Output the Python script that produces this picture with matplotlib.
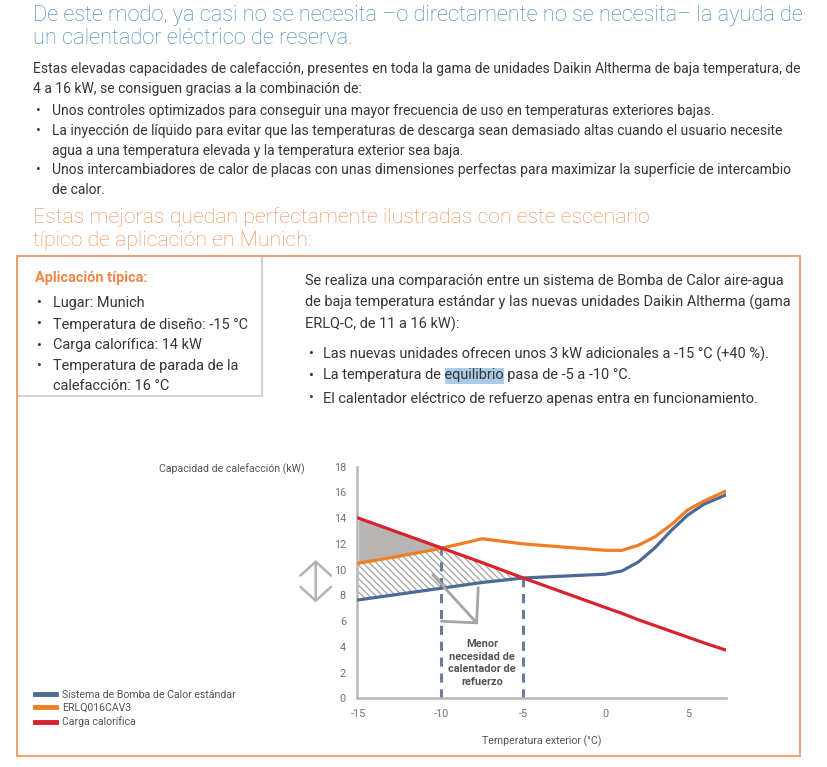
import numpy as np
import matplotlib
matplotlib.use('Agg')
import matplotlib.pyplot as plt
from matplotlib.font_manager import FontProperties, findfont
from matplotlib.patches import Rectangle
from matplotlib.transforms import Affine2D

# ---- chart data ----
temps = [-15, -12.5, -10, -7.5, -5, -2.5, 0, 1, 2, 3, 4, 5, 6, 7.3]
standard = [7.65, 8.1, 8.55, 9.0, 9.35, 9.5, 9.65, 9.9, 10.6, 11.7, 13.05, 14.25, 15.1, 15.8]
erlq = [10.5, 11.05, 11.65, 12.4, 12.0, 11.75, 11.5, 11.5, 11.9, 12.55, 13.5, 14.65, 15.35, 16.1]
load = [14.0, 12.85, 11.7, 10.55, 9.35, 8.2, 7.05, 6.6, 6.1, 5.65, 5.2, 4.75, 4.3, 3.75]
labels = ['Sistema de Bomba de Calor estándar', 'ERLQ016CAV3', 'Carga calorífica']
xticks = [-15, -10, -5, 0, 5]
yticks = [0, 2, 4, 6, 8, 10, 12, 14, 16, 18]
balance_old = -5
balance_new = -10

# ---- page text ----
title = ['De este modo, ya casi no se necesita –o directamente no se necesita– la ayuda de',
         'un calentador eléctrico de reserva.']
para = ['Estas elevadas capacidades de calefacción, presentes en toda la gama de unidades Daikin Altherma de baja temperatura, de',
        '4 a 16 kW, se consiguen gracias a la combinación de:']
bullets = [['Unos controles optimizados para conseguir una mayor frecuencia de uso en temperaturas exteriores bajas.'],
           ['La inyección de líquido para evitar que las temperaturas de descarga sean demasiado altas cuando el usuario necesite',
            'agua a una temperatura elevada y la temperatura exterior sea baja.'],
           ['Unos intercambiadores de calor de placas con unas dimensiones perfectas para maximizar la superficie de intercambio',
            'de calor.']]
heading = ['Estas mejoras quedan perfectamente ilustradas con este escenario',
           'típico de aplicación en Munich:']
box_title = 'Aplicación típica:'
box_items = ['Lugar: Munich', 'Temperatura de diseño: -15 °C', 'Carga calorífica: 14 kW',
             'Temperatura de parada de la', 'calefacción: 16 °C']
box_bullet = [True, True, True, True, False]
right_para = ['Se realiza una comparación entre un sistema de Bomba de Calor aire-agua',
              'de baja temperatura estándar y las nuevas unidades Daikin Altherma (gama',
              'ERLQ-C, de 11 a 16 kW):']
right_items = ['Las nuevas unidades ofrecen unos 3 kW adicionales a -15 °C (+40 %).',
               'La temperatura de equilibrio pasa de -5 a -10 °C.',
               'El calentador eléctrico de refuerzo apenas entra en funcionamiento.']


def pick(names):
    for n in names:
        try:
            findfont(FontProperties(family=n), fallback_to_default=False)
            return n
        except Exception:
            pass
    return 'DejaVu Sans'


font = pick(['Liberation Sans Narrow', 'Roboto', 'Open Sans'])

W, H = 827, 767
fig = plt.figure(figsize=(W / 100, H / 100), dpi=100)
rend = fig.canvas.get_renderer()
pix = Affine2D().scale(1 / W, -1 / H).translate(0, 1) + fig.transFigure


def width_of(s, size, weight='normal'):
    fp = FontProperties(family=font, size=size, weight=weight)
    return rend.get_text_width_height_descent(s, fp, ismath=False)[0]


def fit(s, target, weight='normal'):
    return 10 * target / width_of(s, 10, weight)


def put(x, y, s, size, color, weight='normal', ha='left'):
    fig.text(x, y, s, transform=pix, fontsize=size, color=color, family=font,
             weight=weight, ha=ha, va='baseline')


blue_t = '#3d82b2'
orange_t = '#f0874a'
body = '#363636'

# title
ts = fit(title[0], 772, 'light')
put(33, 21, title[0], ts, blue_t, 'light')
put(33, 44.5, title[1], ts, blue_t, 'light')

# paragraph + bullets
bs = fit(para[0], 770)
put(33, 73.5, para[0], bs, body)
put(33, 92.5, para[1], bs, body)
ys = [115, 135, 154.5, 174, 193.5]
k = 0
for item in bullets:
    for j, line in enumerate(item):
        if j == 0:
            put(36, ys[k], '•', bs, body)
        put(52, ys[k], line, bs, body)
        k += 1

# orange heading
hs = fit(heading[0], 618, 'light')
put(33, 223, heading[0], hs, orange_t, 'light')
put(33, 246, heading[1], hs, orange_t, 'light')

# boxes
fig.add_artist(Rectangle((17, 256), 245, 140, transform=pix, fill=False,
                         edgecolor='#c9c9c9', lw=1.2))
fig.add_artist(Rectangle((17, 256), 783, 500, transform=pix, fill=False,
                         edgecolor='#f19a68', lw=1.3))

rs = fit(right_para[0], 478)
put(35, 282, box_title, rs, orange_t, 'bold')
for y, s, b in zip([307, 328.5, 349.5, 370, 390], box_items, box_bullet):
    if b:
        put(37, y, '•', rs, body)
    put(53, y, s, rs, body)

for y, s in zip([284.5, 306.5, 328.5], right_para):
    put(305, y, s, rs, body)
for y, s in zip([358.5, 379.5, 402.5], right_items):
    put(309, y, '•', rs, body)
    if 'equilibrio' in s:
        pre = s.split('equilibrio')[0]
        hx = 323 + width_of(pre, rs)
        w = width_of('equilibrio', rs)
        fig.add_artist(Rectangle((hx, y - 12), w, 16, transform=pix,
                                 facecolor='#a8cbe8', edgecolor='none'))
    put(323, y, s, rs, body)

# ---- chart ----
x0, x1, yb, yt = 357, 725.7, 698.3, 466.7
ax = fig.add_axes([x0 / W, 1 - yb / H, (x1 - x0) / W, (yb - yt) / H])
ax.set_xlim(-15.1, 7.3)
ax.set_ylim(0, 18)

t = np.array(temps)
s_ = np.array(standard)
e_ = np.array(erlq)
l_ = np.array(load)
top = np.minimum(l_, e_)
ax.fill_between(t, e_, l_, where=l_ >= e_, interpolate=True,
                color='#b7b4b1', lw=0, zorder=1)
ax.fill_between(t, s_, top, where=top >= s_, interpolate=True,
                facecolor='white', edgecolor='#a9a9a9', hatch='\\\\\\\\\\', lw=0, zorder=1)

for xv in [balance_new, balance_old]:
    yv = np.interp(xv, t, s_ if xv == balance_old else e_)
    ax.plot([xv, xv], [0, yv], color='#6b7ba2', lw=2.2, dashes=(3, 2.2), zorder=2)

ln_s, = ax.plot(t, s_, color='#4d6a95', lw=2.3, zorder=3, label=labels[0])
ln_e, = ax.plot(t, e_, color='#ef7e24', lw=2.3, zorder=4, label=labels[1])
ln_l, = ax.plot(t, l_, color='#d8232f', lw=2.3, zorder=5, label=labels[2])

for sp in ['top', 'right']:
    ax.spines[sp].set_visible(False)
for sp in ['left', 'bottom']:
    ax.spines[sp].set_color('#b8b8b8')
    ax.spines[sp].set_linewidth(1.8)
ax.set_xticks(xticks)
ax.set_yticks(yticks)
ax.set_xticklabels([str(v) for v in xticks])
ax.tick_params(length=0, pad=8, labelsize=7.8, labelcolor='#727272')
for lab in ax.get_xticklabels() + ax.get_yticklabels():
    lab.set_family(font)

# arrows
ax.annotate('', xy=(-7.75, 5.75), xytext=(-10.5, 9.6),
            arrowprops=dict(arrowstyle='->,head_length=0.9,head_width=0.9',
                            color='#a5a5a5', lw=2, mutation_scale=20,
                            shrinkA=0, shrinkB=0), zorder=6)
ax.annotate('', xy=(-0.112, 7.45), xytext=(-0.112, 10.75),
            xycoords=('axes fraction', 'data'), textcoords=('axes fraction', 'data'),
            arrowprops=dict(arrowstyle='<->,head_length=0.5,head_width=0.55',
                            color='#b3b3b3', lw=1.8, mutation_scale=20,
                            shrinkA=0, shrinkB=0), annotation_clip=False)

ms = fit('calentador de', 68, 'bold')
ax.text(-7.5, 2.75, 'Menor\nnecesidad de\ncalentador de\nrefuerzo', ha='center', va='center',
        fontsize=ms, weight='bold', color='#555555', family=font, linespacing=1.35)

ls = fit(labels[0], 174)
put(305, 472, 'Capacidad de calefacción (kW)', ls, '#555555', ha='right')
put(542, 744, 'Temperatura exterior (°C)', ls, '#555555', ha='center')

leg = fig.legend(handles=[ln_s, ln_e, ln_l], loc='upper left',
                 bbox_to_anchor=(35, 690), bbox_transform=pix, frameon=False,
                 handlelength=2.0, handletextpad=0.55,
                 labelspacing=0.3, borderpad=0, borderaxespad=0,
                 prop=dict(family=font, size=ls))
for hl in leg.get_lines():
    hl.set_linewidth(3.5)
for tx in leg.get_texts():
    tx.set_color('#555555')

fig.savefig('out.png', dpi=100)
